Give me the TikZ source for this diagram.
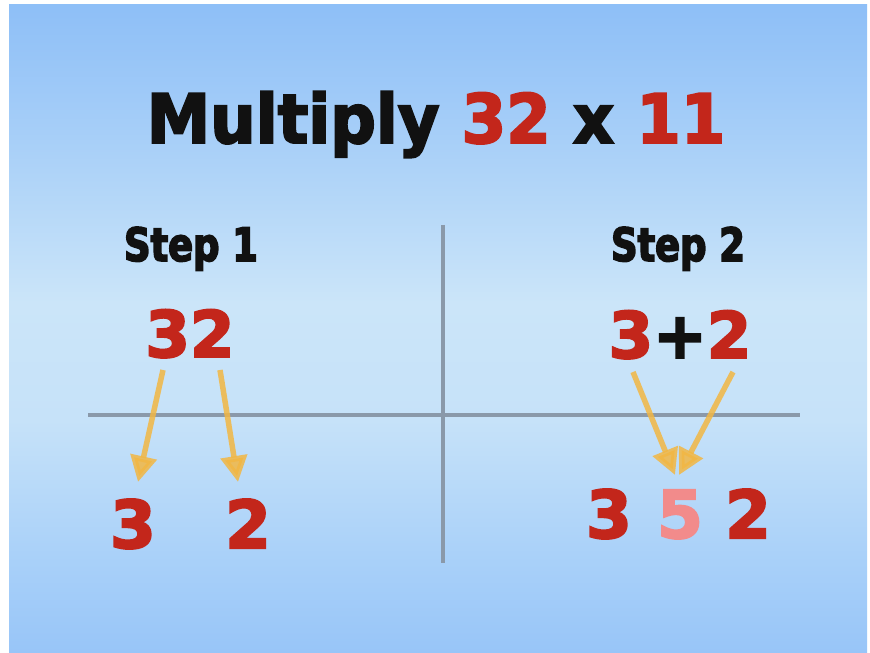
\documentclass[tikz,border=0pt]{standalone}
\usepackage{fontspec}
\usetikzlibrary{arrows.meta}
\newfontfamily\titlef{DejaVu Sans}[FakeStretch=0.94]
\newfontfamily\stepf{DejaVu Sans}[FakeStretch=0.8]
\newfontfamily\digf{DejaVu Sans}
\newcommand\heavytext[2]{\special{pdf:literal direct 2 Tr #1 w}#2\special{pdf:literal direct 0 Tr}}
\definecolor{numred}{HTML}{C3261B}
\definecolor{numpink}{HTML}{F28B8B}
\definecolor{txtblack}{HTML}{111111}
\definecolor{arrgold}{HTML}{F2B744}
\definecolor{linegray}{HTML}{8A99AA}
\definecolor{bgA}{HTML}{8EBFF7}
\definecolor{bgB}{HTML}{A9D0F8}
\definecolor{bgC}{HTML}{CBE5F9}
\definecolor{bgD}{HTML}{C6E2F9}
\definecolor{bgE}{HTML}{A8D0F9}
\definecolor{bgF}{HTML}{98C5F8}
\pgfdeclareverticalshading{bgshade}{100bp}{color(0bp)=(bgF); color(25bp)=(bgF); color(32bp)=(bgE); color(43bp)=(bgD); color(52bp)=(bgC); color(64bp)=(bgB); color(75bp)=(bgA); color(100bp)=(bgA)}
\begin{document}
\begin{tikzpicture}[x=1pt,y=1pt,
  titletext/.style={anchor=base,inner sep=0pt,font=\titlef\bfseries\fontsize{68}{68}\selectfont,text=txtblack},
  steptext/.style={anchor=base,inner sep=0pt,font=\stepf\bfseries\fontsize{46}{46}\selectfont,text=txtblack},
  bignum/.style={anchor=base,inner sep=0pt,font=\digf\bfseries\fontsize{64}{64}\selectfont,text=numred},
  lownum/.style={bignum,font=\digf\bfseries\fontsize{66}{66}\selectfont},
  rule/.style={draw=linegray,line width=4pt},
  goldarrow/.style={draw=arrgold,line width=5.5pt,opacity=0.85,-{Triangle[width=26pt,length=26pt]}}]
\useasboundingbox (0,0) rectangle (870,653);
\fill[white] (0,0) rectangle (870,653);
\shade[shading=bgshade] (9,0) rectangle (867,648);

% title
\node[titletext] (title) at (436,510) {\heavytext{2}{Multiply \textcolor{numred}{32} x \textcolor{numred}{11}}};

% step headers
\node[steptext] (step1) at (191,392) {\heavytext{1.6}{Step 1}};
\node[steptext] (step2) at (678,392) {\heavytext{1.6}{Step 2}};

% dividing lines
\coordinate (vtop) at (443,428);
\coordinate (vbot) at (443,90);
\coordinate (hleft) at (88,238);
\coordinate (hright) at (800,238);
\draw[rule] (vtop) -- (vbot);
\draw[rule] (hleft) -- (hright);

% step 1
\node[bignum] (n32) at (190,296) {\heavytext{2}{32}};
\node[lownum] (b3) at (133,105) {\heavytext{2}{3}};
\node[lownum] (b2) at (248,105) {\heavytext{2}{2}};

% step 2
\node[bignum] (sum) at (680,295) {\heavytext{2}{3\textcolor{txtblack}{+}2}};
\node[lownum] (r3) at (609,115) {\heavytext{2}{3}};
\node[lownum,text=numpink] (r5) at (680,115) {\heavytext{2}{5}};
\node[lownum] (r2) at (748,115) {\heavytext{2}{2}};

% arrows
\coordinate (a1s) at (163,283);
\coordinate (a1e) at (138,171);
\coordinate (a2s) at (220,283);
\coordinate (a2e) at (238,171);
\coordinate (a3s) at (633,281);
\coordinate (a3e) at (675,178);
\coordinate (a4s) at (733,281);
\coordinate (a4e) at (679,178);
\draw[goldarrow] (a1s) -- (a1e);
\draw[goldarrow] (a2s) -- (a2e);
\draw[goldarrow] (a3s) -- (a3e);
\draw[goldarrow] (a4s) -- (a4e);
\end{tikzpicture}
\end{document}
